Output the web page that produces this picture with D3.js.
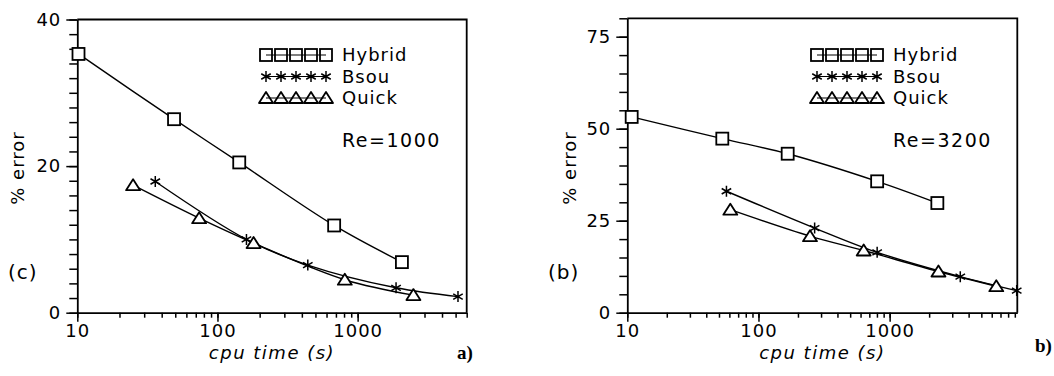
<!DOCTYPE html>
<html>
<head>
<meta charset="utf-8">
<script src="https://cdn.jsdelivr.net/npm/d3@7"></script>
<style>
  body { margin: 0; background: #fff; }
  svg { display: block; }
  text { font-family: "DejaVu Sans", sans-serif; fill: #000; }
</style>
</head>
<body>
<svg id="chart" width="1054" height="376"></svg>
<script>

// series names, in legend order
var seriesNames = ["Hybrid", "Bsou", "Quick"];
var markerKinds = ["square", "star", "triangle"];

// panel a) Re=1000  (cpu time in s, % error)
var aHybridTime = [10.2, 49, 143, 680, 2070];
var aHybridErr = [35.3, 26.4, 20.5, 11.9, 6.9];
var aBsouTime = [36, 161, 441, 1880, 5200];
var aBsouErr = [17.9, 10.0, 6.5, 3.4, 2.2];
var aQuickTime = [25, 74, 181, 810, 2500];
var aQuickErr = [17.4, 12.9, 9.5, 4.5, 2.4];

// panel b) Re=3200
var bHybridTime = [10.8, 53, 167, 803, 2310];
var bHybridErr = [53.2, 47.3, 43.2, 35.7, 29.8];
var bBsouTime = [57, 268, 803, 3455, 9300];
var bBsouErr = [33.0, 23.0, 16.4, 9.8, 6.0];
var bQuickTime = [61, 247, 634, 2355, 6500];
var bQuickErr = [28.0, 20.8, 16.9, 11.2, 7.2];

// tick labels
var xTickValues = [10, 100, 1000];
var aYTicks = [0, 20, 40];
var bYTicks = [0, 25, 50, 75];

var svg = d3.select("#chart");

function zip(t, e) {
    return t.map(function (d, i) { return { t: d, e: e[i] }; });
}

function drawMarker(g, kind, cx, cy, fill) {
    if (kind === "square") {
        g.append("rect")
            .attr("x", cx - 6).attr("y", cy - 6)
            .attr("width", 12).attr("height", 12)
            .attr("fill", fill).attr("stroke", "#000").attr("stroke-width", 1.8);
    } else if (kind === "triangle") {
        g.append("path")
            .attr("d", "M" + (cx - 7) + "," + (cy + 5) + "L" + (cx + 7) + "," + (cy + 5) + "L" + cx + "," + (cy - 6) + "Z")
            .attr("fill", fill).attr("stroke", "#000").attr("stroke-width", 1.8)
            .attr("stroke-linejoin", "round");
    } else {
        var r = 5.5, p = "";
        [90, 30, -30].forEach(function (a) {
            var dx = r * Math.cos(a * Math.PI / 180), dy = r * Math.sin(a * Math.PI / 180);
            p += "M" + (cx - dx) + "," + (cy - dy) + "L" + (cx + dx) + "," + (cy + dy);
        });
        g.append("path").attr("d", p)
            .attr("stroke", "#000").attr("stroke-width", 1.5);
    }
}

function drawPanel(cfg) {
    var x = d3.scaleLog().domain([10, cfg.xMax]).range([cfg.x0, cfg.x1]);
    var y = d3.scaleLinear().domain([0, cfg.yMax]).range([cfg.y1, cfg.y0]);
    var g = svg.append("g");

    // minor ticks
    var xMinor = x.ticks().filter(function (d) { return d <= cfg.xMax; });
    g.append("g")
        .attr("transform", "translate(0," + cfg.y1 + ")")
        .call(d3.axisBottom(x).tickValues(xMinor).tickSize(5).tickSizeOuter(0).tickFormat(""))
        .call(function (s) { s.select(".domain").remove(); s.selectAll("line").attr("stroke-width", 1.5); });
    g.append("g")
        .attr("transform", "translate(" + cfg.x0 + ",0)")
        .call(d3.axisLeft(y).tickValues(d3.range(0, cfg.yMax + 0.01, cfg.yStep)).tickSize(8).tickSizeOuter(0).tickFormat(""))
        .call(function (s) { s.select(".domain").remove(); s.selectAll("line").attr("stroke-width", 1.5); });

    // major ticks with labels
    var xa = g.append("g")
        .attr("transform", "translate(0," + cfg.y1 + ")")
        .call(d3.axisBottom(x).tickValues(xTickValues).tickSize(9).tickSizeOuter(0).tickPadding(3).tickFormat(d3.format("d")));
    var ya = g.append("g")
        .attr("transform", "translate(" + cfg.x0 + ",0)")
        .call(d3.axisLeft(y).tickValues(cfg.yTicks).tickSize(11).tickSizeOuter(0).tickPadding(5));
    [xa, ya].forEach(function (a) {
        a.selectAll("text").style("font-size", "18px").style("letter-spacing", "1px")
            .style("font-family", "DejaVu Sans");
        a.selectAll("line").attr("stroke-width", 1.5);
        a.select(".domain").attr("stroke-width", 1.8);
    });

    // frame top and right
    g.append("path")
        .attr("d", "M" + cfg.x0 + "," + cfg.y0 + "H" + cfg.x1 + "V" + cfg.y1)
        .attr("fill", "none").attr("stroke", "#000").attr("stroke-width", 1.8);

    var line = d3.line()
        .x(function (d) { return x(d.t); })
        .y(function (d) { return y(d.e); })
        .curve(d3.curveCatmullRom);

    cfg.series.forEach(function (s, i) {
        g.append("path").datum(s)
            .attr("d", line)
            .attr("fill", "none").attr("stroke", "#000").attr("stroke-width", 1.4);
    });
    cfg.series.forEach(function (s, i) {
        s.forEach(function (d) {
            drawMarker(g, markerKinds[i], x(d.t), y(d.e), "#fff");
        });
    });

    // legend
    seriesNames.forEach(function (name, i) {
        var ly = 55 + i * 21.5;
        var lx = cfg.legendX;
        var centers = d3.range(5).map(function (k) { return lx - 16 - (4 - k) * 15; });
        g.append("line")
            .attr("x1", centers[0]).attr("x2", centers[4])
            .attr("y1", ly).attr("y2", ly)
            .attr("stroke", "#000").attr("stroke-width", 1.2);
        centers.forEach(function (c) { drawMarker(g, markerKinds[i], c, ly, "none"); });
        g.append("text")
            .attr("x", lx).attr("y", ly + 6)
            .style("font-size", "18px").style("letter-spacing", "1px")
            .text(name);
    });
    g.append("text")
        .attr("x", cfg.legendX).attr("y", 147)
        .style("font-size", "19px").style("letter-spacing", "1.5px")
        .text(cfg.reLabel);

    // axis titles
    g.append("text")
        .attr("x", (cfg.x0 + cfg.x1) / 2).attr("y", 359)
        .attr("text-anchor", "middle")
        .style("font-size", "18px").style("font-style", "italic").style("letter-spacing", "1.5px")
        .text("cpu time (s)");
    g.append("text")
        .attr("transform", "translate(" + cfg.yLabelX + ",168) rotate(-90)")
        .attr("text-anchor", "middle")
        .style("font-size", "18px").style("letter-spacing", "1px")
        .text("% error");

    g.append("text")
        .attr("x", cfg.caseX).attr("y", 279)
        .style("font-size", "20px").style("letter-spacing", "1px")
        .text(cfg.caseLabel);
    g.append("text")
        .attr("x", cfg.panelX).attr("y", cfg.panelY)
        .style("font-family", "Liberation Serif, serif").style("font-weight", "bold").style("font-size", "19px")
        .text(cfg.panelLabel);
}

drawPanel({
    x0: 77.3, x1: 466.7, y0: 19.5, y1: 312.7,
    xMax: 6000, yMax: 40, yStep: 2, yTicks: aYTicks,
    series: [zip(aHybridTime, aHybridErr), zip(aBsouTime, aBsouErr), zip(aQuickTime, aQuickErr)],
    legendX: 342, reLabel: "Re=1000",
    yLabelX: 24, caseX: 8, caseLabel: "(c)",
    panelX: 457, panelY: 359, panelLabel: "a)"
});

drawPanel({
    x0: 627.3, x1: 1017.3, y0: 18.3, y1: 312.7,
    xMax: 9400, yMax: 80, yStep: 5, yTicks: bYTicks,
    series: [zip(bHybridTime, bHybridErr), zip(bBsouTime, bBsouErr), zip(bQuickTime, bQuickErr)],
    legendX: 893, reLabel: "Re=3200",
    yLabelX: 576, caseX: 548, caseLabel: "(b)",
    panelX: 1035, panelY: 352, panelLabel: "b)"
});

</script>
</body>
</html>
